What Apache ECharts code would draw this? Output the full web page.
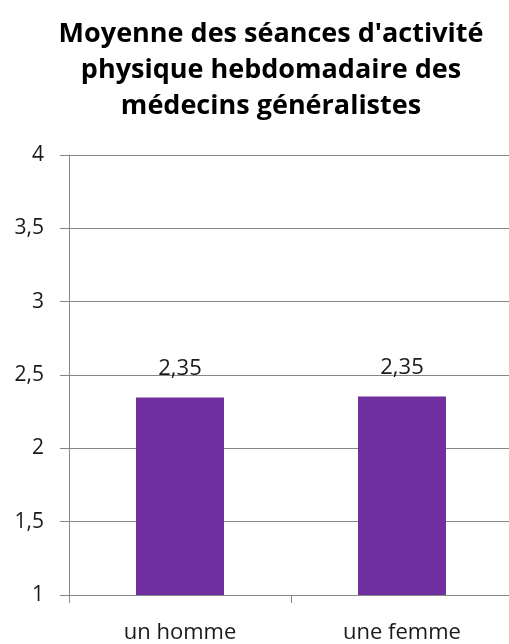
<!DOCTYPE html>
<html>
<head>
<meta charset="utf-8">
<script src="https://cdn.jsdelivr.net/npm/echarts@6/dist/echarts.min.js"></script>
<style>html,body{margin:0;padding:0;background:#fff;overflow:hidden}#c{width:513px;height:644px}</style>
</head>
<body>
<div id="c"></div>
<script>
const titleText = "Moyenne des séances d'activité\nphysique hebdomadaire des\nmédecins généralistes";
const categories = ["un homme", "une femme"];
const values = [2.347, 2.354];
const yTicks = [1, 1.5, 2, 2.5, 3, 3.5, 4];

const chart = echarts.init(document.getElementById('c'));
const font = "'Open Sans', sans-serif";
chart.setOption({
  animation: false,
  backgroundColor: '#fff',
  title: {
    text: titleText,
    left: 266,
    top: 11,
    textAlign: 'center',
    textStyle: { fontFamily: font, fontWeight: 'bold', fontSize: 27, lineHeight: 36, color: '#000' }
  },
  grid: { left: 69, right: 0, top: 155, bottom: 48, containLabel: false },
  xAxis: {
    type: 'category',
    data: categories,
    axisLine: { lineStyle: { color: '#868686', width: 1 } },
    axisTick: { show: true, length: 8, lineStyle: { color: '#868686' } },
    axisLabel: { fontFamily: font, fontSize: 22, color: '#1a1a1a', margin: 27 }
  },
  yAxis: {
    type: 'value',
    min: yTicks[0],
    max: yTicks[yTicks.length - 1],
    interval: 0.5,
    axisLine: { show: true, lineStyle: { color: '#868686', width: 1 } },
    axisTick: { show: true, length: 9, lineStyle: { color: '#868686' } },
    splitLine: { lineStyle: { color: '#868686', width: 1 } },
    axisLabel: {
      fontFamily: font, fontSize: 21, color: '#1a1a1a', margin: 25,
      formatter: v => String(v).replace('.', ',')
    }
  },
  series: [{
    type: 'bar',
    data: values,
    barWidth: 88,
    itemStyle: { color: '#7030A0' },
    label: {
      show: true,
      position: 'top',
      distance: 18,
      fontFamily: font, fontSize: 22, color: '#1a1a1a',
      formatter: p => p.value.toFixed(2).replace('.', ',')
    }
  }]
});
</script>
</body>
</html>
